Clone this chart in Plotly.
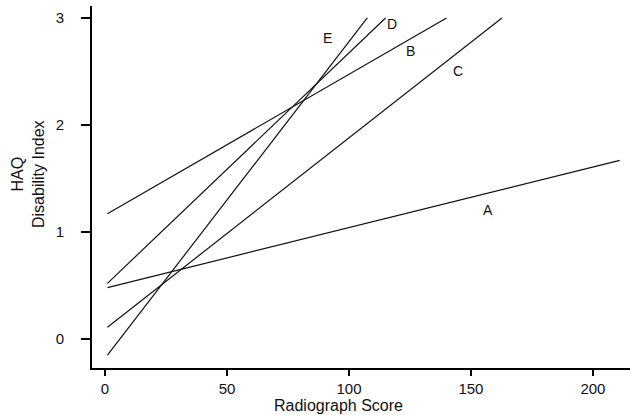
import plotly.graph_objects as go

# Regression lines (HAQ vs radiograph score)
line_names = ["A", "B", "C", "D", "E"]
x_start = [1, 1, 1, 1, 1]
y_start = [0.48, 1.17, 0.11, 0.52, -0.15]
x_end = [211, 140, 162.7, 115, 107.5]
y_end = [1.67, 3.0, 3.0, 3.0, 3.0]

# Label positions for each line
label_x = [157, 125.3, 144.7, 117.6, 91]
label_y = [1.21, 2.69, 2.50, 2.94, 2.81]

x_ticks = [0, 50, 100, 150, 200]
y_ticks = [0, 1, 2, 3]

FONT = "Liberation Sans, Arial, sans-serif"

fig = go.Figure()
for name, xs, ys, xe, ye in zip(line_names, x_start, y_start, x_end, y_end):
    fig.add_trace(go.Scatter(x=[xs, xe], y=[ys, ye], mode="lines",
                             line=dict(color="#111111", width=1.2),
                             name=name, showlegend=False, hoverinfo="skip"))

for name, lx, ly in zip(line_names, label_x, label_y):
    fig.add_annotation(x=lx, y=ly, text=name, showarrow=False,
                       font=dict(family=FONT, size=14, color="#111111"))

# Axis titles
fig.add_annotation(xref="paper", yref="paper", x=(338.5 - 92) / 538, y=(368 - 405.5) / 362,
                   xanchor="center", yanchor="middle",
                   text="Radiograph Score", showarrow=False,
                   font=dict(family=FONT, size=16, color="#111111"))
fig.add_annotation(xref="paper", yref="paper", x=(28 - 92) / 538, y=(368 - 174) / 362,
                   xanchor="center", yanchor="middle",
                   text="HAQ<br>Disability Index", showarrow=False, textangle=-90,
                   font=dict(family=FONT, size=16, color="#111111"))

fig.update_layout(
    width=630, height=415,
    margin=dict(l=92, r=0, t=6, b=47),
    paper_bgcolor="white", plot_bgcolor="white",
    font=dict(family=FONT, size=15, color="#111111"),
    xaxis=dict(range=[-5.33, 215.2], tickvals=x_ticks, showgrid=False, zeroline=False,
               showline=True, linecolor="black", linewidth=2,
               ticks="outside", ticklen=6, tickwidth=1.5, tickcolor="black",
               ticklabelstandoff=0),
    yaxis=dict(range=[-0.271, 3.112], tickvals=y_ticks, showgrid=False, zeroline=False,
               showline=True, linecolor="black", linewidth=2,
               ticks="outside", ticklen=9, tickwidth=1.5, tickcolor="black",
               ticklabelstandoff=14),
)

fig.write_html("out.html", config={"displayModeBar": False},
               post_script="document.body.style.margin='0';")
